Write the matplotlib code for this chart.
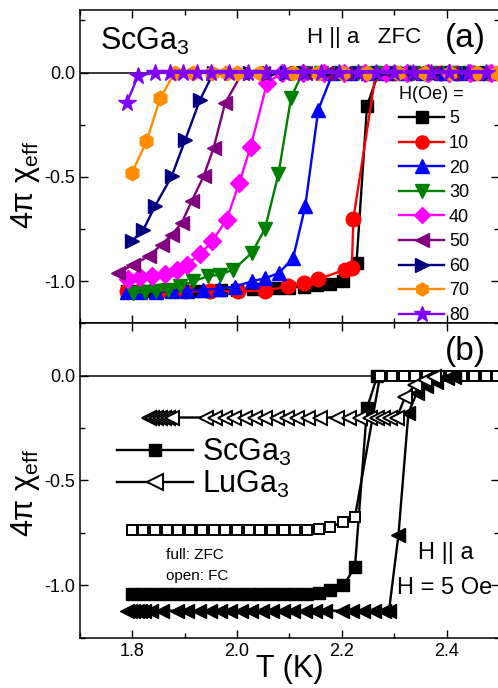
import matplotlib
matplotlib.use('Agg')
import matplotlib.pyplot as plt
from matplotlib.ticker import MultipleLocator

plt.rcParams['font.family'] = ['Liberation Sans', 'DejaVu Sans']
plt.rcParams['mathtext.fontset'] = 'custom'
plt.rcParams['mathtext.rm'] = 'Liberation Sans'
plt.rcParams['mathtext.it'] = 'Liberation Sans:italic'
plt.rcParams['mathtext.default'] = 'regular'

# ---- panel (a): ScGa3, H || a, ZFC, different fields ----
fields = ['5', '10', '20', '30', '40', '50', '60', '70', '80']
colors = ['black', 'red', 'blue', 'green', 'magenta', 'purple', 'navy', 'darkorange', '#8000ff']
markers = ['s', 'o', '^', 'v', 'D', '<', '>', 'h', '*']

T5 = [1.79, 1.815, 1.84, 1.865, 1.89, 1.92, 1.945, 1.97, 2.0, 2.03, 2.053, 2.076, 2.1, 2.127,
      2.152, 2.178, 2.203, 2.228, 2.248, 2.27, 2.295, 2.32, 2.345, 2.37, 2.395, 2.42, 2.445, 2.47, 2.495]
chi5 = [-1.045, -1.045, -1.045, -1.045, -1.045, -1.045, -1.045, -1.04, -1.04, -1.035, -1.035, -1.03, -1.03,
        -1.025, -1.02, -1.015, -1.0, -0.91, -0.16, 0, 0, 0, 0, 0, 0, 0, 0, 0, 0]

T10 = [1.789, 1.815, 1.85, 1.9, 1.948, 2.002, 2.053, 2.098, 2.127, 2.155, 2.206, 2.219, 2.222, 2.265,
       2.3, 2.33, 2.36, 2.39, 2.42, 2.45, 2.48]
chi10 = [-1.048, -1.048, -1.048, -1.048, -1.048, -1.048, -1.045, -1.024, -1.01, -0.99, -0.944, -0.936, -0.70,
         0, 0, 0, 0, 0, 0, 0, 0]

T20 = [1.789, 1.815, 1.845, 1.875, 1.905, 1.935, 1.965, 1.996, 2.028, 2.054, 2.08, 2.107, 2.13, 2.155,
       2.183, 2.215, 2.25, 2.285, 2.32, 2.355, 2.39, 2.425, 2.46, 2.495]
chi20 = [-1.05, -1.05, -1.05, -1.048, -1.045, -1.04, -1.035, -1.025, -1.0, -0.985, -0.96, -0.888, -0.641, -0.178,
         0, 0, 0, 0, 0, 0, 0, 0, 0, 0]

T30 = [1.802, 1.825, 1.846, 1.869, 1.891, 1.916, 1.945, 1.967, 1.993, 2.028, 2.053, 2.079, 2.103,
       2.125, 2.16, 2.195, 2.23, 2.265, 2.3, 2.335, 2.37, 2.405, 2.44, 2.475]
chi30 = [-1.056, -1.05, -1.048, -1.04, -1.024, -1.0, -0.976, -0.968, -0.944, -0.864, -0.75, -0.485, -0.12,
         0, 0, 0, 0, 0, 0, 0, 0, 0, 0, 0]

T40 = [1.792, 1.815, 1.837, 1.862, 1.885, 1.904, 1.93, 1.952, 1.98, 2.004, 2.026, 2.057,
       2.085, 2.125, 2.165, 2.205, 2.245, 2.285, 2.325, 2.365, 2.405, 2.445, 2.485]
chi40 = [-0.99, -0.98, -0.975, -0.965, -0.944, -0.92, -0.87, -0.808, -0.705, -0.529, -0.354, -0.051,
         0, 0, 0, 0, 0, 0, 0, 0, 0, 0, 0]

T50 = [1.773, 1.802, 1.831, 1.856, 1.875, 1.894, 1.913, 1.936, 1.955, 1.977,
       2.01, 2.05, 2.09, 2.13, 2.17, 2.21, 2.25, 2.29, 2.33, 2.37, 2.41, 2.45, 2.49]
chi50 = [-0.96, -0.92, -0.88, -0.824, -0.777, -0.721, -0.617, -0.497, -0.362, -0.147,
         0, 0, 0, 0, 0, 0, 0, 0, 0, 0, 0, 0, 0]

T60 = [1.799, 1.821, 1.843, 1.875, 1.901, 1.929, 1.955, 1.99, 2.025, 2.06, 2.095, 2.13, 2.165, 2.2,
       2.235, 2.27, 2.305, 2.34, 2.375, 2.41, 2.445, 2.48]
chi60 = [-0.808, -0.753, -0.641, -0.497, -0.322, -0.131, 0, 0, 0, 0, 0, 0, 0, 0,
         0, 0, 0, 0, 0, 0, 0, 0]

T70 = [1.799, 1.827, 1.853, 1.881, 1.915, 1.952, 1.98, 2.0, 2.044, 2.107, 2.155, 2.203, 2.248, 2.308,
       2.359, 2.407, 2.458, 2.496]
chi70 = [-0.481, -0.33, -0.123, 0, 0, 0, 0, 0, 0, 0, 0, 0, 0, 0, 0, 0, 0, 0]

T80 = [1.789, 1.811, 1.843, 1.872, 1.897, 1.923, 1.95, 1.985, 2.02, 2.055, 2.09, 2.125, 2.16, 2.195,
       2.23, 2.265, 2.3, 2.335, 2.37, 2.405, 2.44, 2.475]
chi80 = [-0.147, -0.015, 0, 0, 0, 0, 0, 0, 0, 0, 0, 0, 0, 0, 0, 0, 0, 0, 0, 0, 0, 0]

T_a = [T5, T10, T20, T30, T40, T50, T60, T70, T80]
chi_a = [chi5, chi10, chi20, chi30, chi40, chi50, chi60, chi70, chi80]

# ---- panel (b): ScGa3 vs LuGa3, H = 5 Oe, ZFC (full) / FC (open) ----
sc_zfc_T = [1.799, 1.821, 1.843, 1.866, 1.888, 1.91, 1.933, 1.955, 1.977, 1.999, 2.022, 2.044, 2.066, 2.089,
            2.111, 2.133, 2.156, 2.178, 2.203, 2.225, 2.248, 2.268]
sc_zfc = [-1.04, -1.04, -1.04, -1.04, -1.04, -1.04, -1.04, -1.04, -1.04, -1.04, -1.04, -1.04, -1.04, -1.04,
          -1.04, -1.04, -1.035, -1.02, -1.0, -0.912, -0.155, 0.0]

sc_fc_T = [1.799, 1.821, 1.843, 1.866, 1.888, 1.91, 1.933, 1.955, 1.977, 1.999, 2.022, 2.044, 2.066, 2.089,
           2.111, 2.133, 2.156, 2.178, 2.203, 2.225, 2.273, 2.295, 2.318, 2.34, 2.362, 2.385, 2.408, 2.43,
           2.452, 2.475, 2.497]
sc_fc = [-0.737, -0.737, -0.737, -0.737, -0.737, -0.737, -0.737, -0.737, -0.737, -0.737, -0.737, -0.737,
         -0.737, -0.737, -0.737, -0.737, -0.733, -0.722, -0.697, -0.673, 0, 0, 0, 0, 0, 0, 0, 0, 0, 0, 0]

lu_zfc_T = [1.79, 1.796, 1.802, 1.808, 1.815, 1.823, 1.835, 1.857, 1.885, 1.905, 1.927, 1.948, 1.967, 1.987,
            2.008, 2.027, 2.048, 2.067, 2.087, 2.106, 2.129, 2.148, 2.167, 2.2, 2.22, 2.24, 2.262, 2.28, 2.29,
            2.308, 2.327, 2.343, 2.361, 2.38, 2.4, 2.415]
lu_zfc = [-1.12, -1.12, -1.12, -1.12, -1.12, -1.12, -1.12, -1.12, -1.12, -1.12, -1.12, -1.12, -1.12, -1.12,
          -1.12, -1.12, -1.12, -1.12, -1.12, -1.12, -1.12, -1.12, -1.12, -1.12, -1.12, -1.12, -1.12, -1.12,
          -1.12, -0.761, -0.179, -0.083, -0.05, -0.03, -0.01, -0.005]

lu_fc_T = [1.831, 1.838, 1.845, 1.852, 1.86, 1.868, 1.876, 1.94, 1.958, 1.976, 1.994, 2.015, 2.034, 2.053,
           2.076, 2.095, 2.114, 2.136, 2.158, 2.19, 2.213, 2.235, 2.254, 2.267, 2.279, 2.292, 2.305,
           2.321, 2.34, 2.358, 2.376]
lu_fc = [-0.2, -0.2, -0.2, -0.2, -0.2, -0.2, -0.2, -0.2, -0.2, -0.2, -0.2, -0.2, -0.2, -0.2,
         -0.2, -0.2, -0.2, -0.2, -0.2, -0.2, -0.2, -0.2, -0.2, -0.2, -0.2, -0.2, -0.2,
         -0.1, -0.045, -0.02, -0.005]

fig = plt.figure(figsize=(4.98, 6.88), dpi=100)
ax1 = fig.add_axes([0.1606, 0.5305, 0.8414, 0.4549])
ax2 = fig.add_axes([0.1606, 0.0727, 0.8414, 0.4578])

# 画图 (a)
for T, chi, c, m, h in zip(T_a, chi_a, colors, markers, fields):
    ms = 10.5
    if m == '*':
        ms = 13
    elif m == 'D':
        ms = 9
    elif m == 's':
        ms = 9
    ax1.plot(T, chi, color=c, marker=m, ms=ms, lw=1.7, mec=c, label=h)
ax1.axhline(0, color='k', lw=1.1, zorder=0)

ax1.legend(title='H(Oe) =', loc='upper left', bbox_to_anchor=(0.762, 0.758), frameon=False,
           fontsize=13, title_fontsize=13, handlelength=2.5, handletextpad=0.25,
           labelspacing=0.42, borderpad=0, borderaxespad=0, numpoints=1, alignment='left',
           markerscale=0.9)

ax1.text(0.048, 0.872, 'ScGa$_3$', transform=ax1.transAxes, fontsize=22, va='baseline')
ax1.text(0.542, 0.8955, 'H || a   ZFC', transform=ax1.transAxes, fontsize=16, va='baseline')
ax1.text(0.871, 0.883, '(a)', transform=ax1.transAxes, fontsize=24, va='baseline')

# 画图 (b)
ax2.axhline(0, color='k', lw=1.1, zorder=0)
l_sc, = ax2.plot(sc_zfc_T, sc_zfc, 'k-', marker='s', ms=8, lw=1.7, label='ScGa$_3$')
ax2.plot(sc_fc_T, sc_fc, 'k-', marker='s', ms=7.5, mfc='white', mew=1.4, lw=1.7)
ax2.plot(lu_zfc_T, lu_zfc, 'k-', marker='<', ms=10, lw=1.7)
l_lu, = ax2.plot(lu_fc_T, lu_fc, 'k-', marker='<', ms=10, mfc='white', mew=1.4, lw=1.7, label='LuGa$_3$')

ax2.legend(handles=[l_sc, l_lu], loc='upper left', bbox_to_anchor=(0.088, 0.64), frameon=False,
           fontsize=22, handlelength=2.5, handletextpad=0.3, labelspacing=0.05, borderpad=0,
           borderaxespad=0, numpoints=1, markerscale=1.1)

ax2.text(0.871, 0.8825, '(b)', transform=ax2.transAxes, fontsize=24, va='baseline')
ax2.text(0.205, 0.251, 'full: ZFC', transform=ax2.transAxes, fontsize=11, va='baseline')
ax2.text(0.205, 0.184, 'open: FC', transform=ax2.transAxes, fontsize=11, va='baseline')
ax2.text(0.807, 0.2497, 'H || a', transform=ax2.transAxes, fontsize=17, va='baseline')
ax2.text(0.757, 0.1387, 'H = 5 Oe', transform=ax2.transAxes, fontsize=17, va='baseline')

for ax in (ax1, ax2):
    ax.set_xlim(1.7, 2.5)
    ax.xaxis.set_major_locator(MultipleLocator(0.2))
    ax.xaxis.set_minor_locator(MultipleLocator(0.1))
    ax.yaxis.set_major_locator(MultipleLocator(0.5))
    ax.yaxis.set_minor_locator(MultipleLocator(0.25))
    ax.tick_params(which='both', direction='in', top=True, right=True, width=1)
    ax.tick_params(which='major', length=6, labelsize=13)
    ax.tick_params(which='minor', length=3.5)
    for sp in ax.spines.values():
        sp.set_linewidth(1.1)

ax1.set_ylim(-1.2, 0.3)
ax2.set_ylim(-1.25, 0.25)
ax1.tick_params(labelbottom=False)
ax1.set_yticks([-1.0, -0.5, 0.0])
ax1.set_yticklabels(['-1.0', '-0.5', '0.0'])
ax2.set_yticks([-1.0, -0.5, 0.0])
ax2.set_yticklabels(['-1.0', '-0.5', '0.0'])
ax2.set_xticks([1.8, 2.0, 2.2, 2.4])

ax2.set_xlabel('T (K)', fontsize=22, labelpad=-4)
ylab = '4π χ$_{\\mathrm{eff}}$'
fig.text(25 / 498, 1 - 185 / 688, ylab, rotation=90, fontsize=22, ha='center', va='center')
fig.text(25 / 498, 1 - 493 / 688, ylab, rotation=90, fontsize=22, ha='center', va='center')

fig.savefig('out.png', dpi=100)
